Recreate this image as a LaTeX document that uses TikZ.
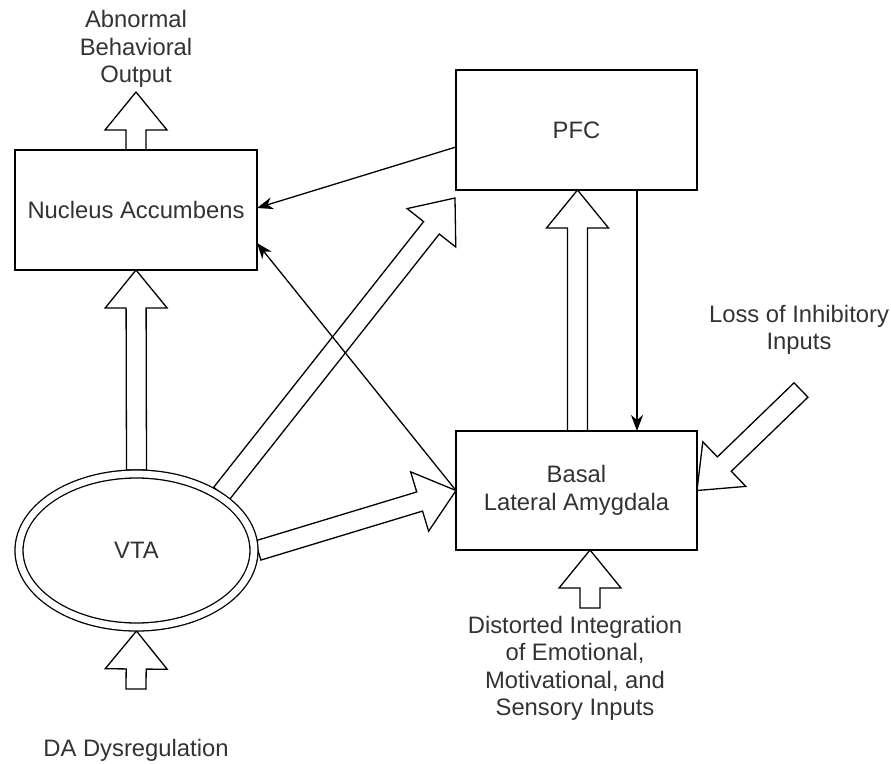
\documentclass[tikz,border=0pt]{standalone}
\usepackage{fontspec}
\setmainfont{Liberation Sans}
\usetikzlibrary{calc,shapes.geometric,arrows.meta}
\pgfdeclarelayer{bg}
\pgfsetlayers{bg,main}
\definecolor{txt}{HTML}{333333}
\newcommand{\fs}{\fontsize{23.8}{27.5}\selectfont}
\tikzset{
 box/.style={draw, line width=1.3pt, fill=white, minimum width=241pt, minimum height=120pt, inner sep=0pt, outer sep=0pt, text=txt, font=\fs, align=center},
 lbl/.style={text=txt, font=\fs, align=center, inner sep=0pt},
 blk/.style={draw, fill=white, line width=1.3pt, line join=miter},
 conn/.style={draw, line width=1.3pt, -{Stealth[length=16pt,width=12pt,inset=5pt]}},
}
\newcommand{\blockarrow}[2]{%
 \coordinate (bt) at (#1);
 \coordinate (bh) at (#2);
 \coordinate (bb) at ($(bh)!38pt!(bt)$);
 \draw[blk] ($(bt)!10pt!90:(bh)$) -- ($(bb)!10pt!-90:(bt)$) -- ($(bb)!31pt!-90:(bt)$) -- (bh) -- ($(bb)!31pt!90:(bt)$) -- ($(bb)!10pt!90:(bt)$) -- ($(bt)!10pt!-90:(bh)$) -- cycle;
}
\begin{document}
\begin{tikzpicture}[x=1pt,y=-1pt]
\useasboundingbox (0,0) rectangle (891,763);
% nodes
\node[box, minimum width=242pt] (na) at (136,210) {Nucleus Accumbens};
\node[box] (pfc) at (576.5,130) {PFC};
\node[box, minimum height=119pt] (bla) at (576.5,490.5) {Basal\\Lateral Amygdala};
\node[draw, ellipse, double, double distance=6.7pt, line width=1.3pt, fill=white, minimum width=235pt, minimum height=153pt, inner sep=0pt, outer sep=0pt, text=txt, font=\fs] (vta) at (136.5,550.5) {VTA};
% labels
\node[lbl] (abn) at (136,49) {Abnormal\\Behavioral\\Output};
\node[lbl] (loss) at (799,330) {Loss of Inhibitory\\Inputs};
\node[lbl] (dist) at (575,668.5) {Distorted Integration\\of Emotional,\\Motivational, and\\Sensory Inputs};
\node[lbl] (da) at (136,750) {DA Dysregulation};
% free ends
\coordinate (abntip) at (136,92);
\coordinate (datail) at (136,689);
\coordinate (losstail) at (801,390);
\coordinate (disttail) at (590,608);
\coordinate (vp) at ($(vta.center)+(85,-57)$);
\coordinate (pfctip) at ([shift={(-1,8)}]pfc.south west);
% block arrows
\begin{pgfonlayer}{bg}
\blockarrow{na.north}{abntip}
\blockarrow{[yshift=4pt]vta.north}{na.south}
\blockarrow{datail}{[yshift=-4pt]vta.south}
\blockarrow{vp}{pfctip}
\blockarrow{[xshift=4pt]vta.east}{bla.west}
\blockarrow{[xshift=1pt]bla.north}{[xshift=1pt]pfc.south}
\blockarrow{losstail}{bla.east}
\blockarrow{disttail}{[xshift=13.5pt]bla.south}
\end{pgfonlayer}
% thin connectors
\draw[conn] ([yshift=-17pt]pfc.west) -- ([yshift=2pt]na.east);
\draw[conn] (bla.west) -- ([yshift=-33pt]na.east);
\draw[conn] ([xshift=60.5pt]pfc.south) -- ([xshift=60.5pt]bla.north);
\end{tikzpicture}
\end{document}
